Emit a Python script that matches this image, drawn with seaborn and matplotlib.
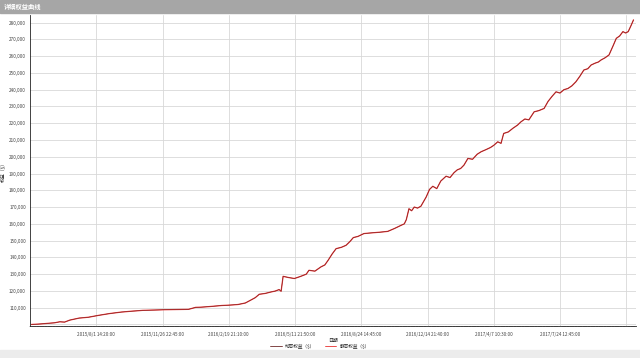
import numpy as np
import pandas as pd
import seaborn as sns
from matplotlib import pyplot as plt
from matplotlib.patches import Rectangle
from matplotlib.ticker import FuncFormatter, MultipleLocator

# bar number of the trade and account equity ($)
bar_no = [2, 12, 25, 37, 45, 52, 60, 74, 88, 103, 120, 138, 153, 170, 188, 203, 220, 239,
          250, 258, 275, 289, 300, 314, 325, 334, 340, 346, 355, 364, 370, 376, 379, 382,
          390, 399, 408, 417, 421, 430, 439, 445, 450, 456, 462, 470, 477, 483, 488, 495,
          504, 515, 528, 540, 550, 560, 565, 568, 572, 576, 580, 585, 590, 598, 603, 608,
          614, 620, 628, 634, 640, 645, 650, 655, 661, 668, 675, 681, 688, 695, 700, 706,
          711, 715, 722, 729, 736, 741, 747, 753, 761, 768, 776, 782, 788, 794, 800, 806,
          812, 818, 824, 830, 836, 842, 847, 853, 858, 862, 868, 874, 880, 885, 890, 895,
          899, 903, 907, 911]
equity_k = [100.0, 100.2, 100.6, 101.0, 101.6, 101.4, 102.6, 103.8, 104.3, 105.4, 106.5,
            107.4, 107.9, 108.4, 108.6, 108.8, 108.9, 109.0, 110.2, 110.3, 110.8, 111.3,
            111.5, 111.9, 112.8, 114.7, 116.0, 118.0, 118.5, 119.4, 119.9, 120.8, 119.8,
            128.7, 128.0, 127.4, 128.6, 130.0, 132.3, 131.8, 134.3, 135.5, 138.3, 142.0,
            145.2, 146.0, 147.2, 149.5, 151.8, 152.5, 154.2, 154.6, 155.0, 155.5, 157.2,
            159.1, 160.0, 162.5, 169.0, 167.8, 170.0, 169.4, 170.5, 176.0, 180.5, 182.4,
            181.0, 185.5, 188.4, 187.6, 190.5, 192.2, 193.0, 195.0, 199.0, 198.5, 201.5,
            203.0, 204.2, 205.5, 206.8, 208.9, 208.0, 213.9, 214.8, 217.0, 218.9, 220.8,
            222.5, 222.0, 226.8, 227.5, 228.8, 233.0, 236.0, 238.7, 238.0, 240.0, 240.7,
            242.3, 244.7, 248.0, 251.7, 252.5, 254.7, 255.8, 256.5, 257.7, 259.0, 260.7,
            266.0, 270.6, 272.0, 274.6, 273.8, 274.6, 278.0, 281.6]

tick_bars = [100, 200, 300, 400, 500, 600, 700, 800]
tick_labels = ['2015/8/1 14:20:00', '2015/11/26 22:45:00', '2016/2/19 21:10:00',
               '2016/5/11 21:50:00', '2016/8/24 14:45:00', '2016/12/14 21:40:00',
               '2017/4/7 10:30:00', '2017/7/24 12:45:00']
series_names = ['动态权益（$）', '静态权益（$）']
colors = ['#e83030', '#6e2a2a']

equity = [v * 1000 for v in equity_k]
df = pd.DataFrame({'bar': bar_no, 'equity': equity})

sns.set_style('whitegrid')
plt.rcParams['font.family'] = ['Noto Sans CJK SC', 'DejaVu Sans']

fig = plt.figure(figsize=(6.4, 3.58), dpi=100)
ax = fig.add_axes([0.047, 0.089, 0.947, 0.869])

# static equity drawn underneath in red, dynamic equity on top, thinner and darker
sns.lineplot(data=df, x='bar', y='equity', color=colors[0], linewidth=0.9, ax=ax)
sns.lineplot(data=df, x='bar', y='equity', color=colors[1], linewidth=0.35, ax=ax)

ax.set_xlim(0, 915)
ax.set_ylim(99000, 284500)
ax.set_xticks(tick_bars + [900])
ax.set_xticklabels(tick_labels + [''], fontsize=3.3, color='#444444')
ax.xaxis.set_minor_locator(MultipleLocator(4))
ax.yaxis.set_major_locator(MultipleLocator(10000))
ax.yaxis.set_major_formatter(FuncFormatter(lambda v, p: f'{int(v):,}' if v >= 110000 else ''))
ax.tick_params(axis='y', labelsize=3.3, labelcolor='#444444', length=2, width=0.5, pad=1)
ax.tick_params(axis='x', which='major', length=2, width=0.5, pad=2)
ax.tick_params(axis='x', which='minor', length=1, width=0.3, bottom=True)
ax.grid(True, color='#d8d8d8', linewidth=0.6)
ax.set_xlabel('日期', fontsize=3.5, labelpad=1)
ax.set_ylabel('权益（$）', fontsize=3.5, labelpad=2)
for side in ['left', 'bottom']:
    ax.spines[side].set_color('#222222')
    ax.spines[side].set_linewidth(0.6)
for side in ['top', 'right']:
    ax.spines[side].set_visible(False)

handles = [plt.Line2D([], [], color=c, linewidth=0.6) for c in ['#6e2a2a', '#e83030']]
fig.legend(handles, series_names, loc='center', bbox_to_anchor=(0.5, 0.032), ncol=2,
           fontsize=3.3, frameon=False, handlelength=2.5, columnspacing=2)

# title bar and bottom toolbar strip
fig.patches.append(Rectangle((0, 1 - 13 / 358), 1, 13 / 358, transform=fig.transFigure,
                             color='#a6a6a6', zorder=0))
fig.text(0.006, 1 - 6.5 / 358, '详细权益曲线', color='white', fontsize=4.5,
         fontweight='bold', va='center')
fig.patches.append(Rectangle((0, 0), 1, 8 / 358, transform=fig.transFigure,
                             color='#ececec', zorder=0))

fig.savefig('out.png', dpi=100)
